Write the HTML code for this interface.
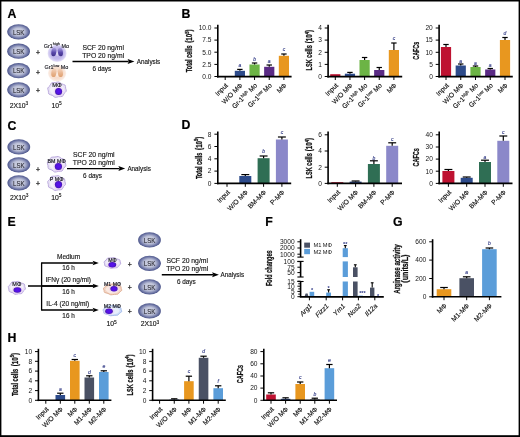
<!DOCTYPE html>
<html><head><meta charset="utf-8"><title>Figure</title>
<style>
html,body{margin:0;padding:0;background:#fff;}
body{width:520px;height:437px;overflow:hidden;font-family:"Liberation Sans",sans-serif;}
svg{display:block;font-family:"Liberation Sans",sans-serif;will-change:transform;}
</style></head><body>
<svg width="520" height="437" viewBox="0 0 520 437" font-family="Liberation Sans, sans-serif">
<rect x="0" y="0" width="520" height="437" fill="#fff"/>
<text x="7.40" y="17.80" font-size="12.3" text-anchor="start" font-weight="bold" font-style="normal" fill="#000" stroke="#000" stroke-width="0.2">A</text>
<text x="181.50" y="17.80" font-size="12.3" text-anchor="start" font-weight="bold" font-style="normal" fill="#000" stroke="#000" stroke-width="0.2">B</text>
<text x="7.40" y="129.50" font-size="12.3" text-anchor="start" font-weight="bold" font-style="normal" fill="#000" stroke="#000" stroke-width="0.2">C</text>
<text x="181.50" y="129.20" font-size="12.3" text-anchor="start" font-weight="bold" font-style="normal" fill="#000" stroke="#000" stroke-width="0.2">D</text>
<text x="7.40" y="226.10" font-size="12.3" text-anchor="start" font-weight="bold" font-style="normal" fill="#000" stroke="#000" stroke-width="0.2">E</text>
<text x="265.20" y="226.00" font-size="12.3" text-anchor="start" font-weight="bold" font-style="normal" fill="#000" stroke="#000" stroke-width="0.2">F</text>
<text x="393.00" y="226.10" font-size="12.3" text-anchor="start" font-weight="bold" font-style="normal" fill="#000" stroke="#000" stroke-width="0.2">G</text>
<text x="7.40" y="341.50" font-size="12.3" text-anchor="start" font-weight="bold" font-style="normal" fill="#000" stroke="#000" stroke-width="0.2">H</text>
<defs>
<radialGradient id="lsk" cx="50%" cy="50%" r="50%">
<stop offset="0" stop-color="#d0d3e3"/><stop offset="0.46" stop-color="#c0c4d9"/><stop offset="0.64" stop-color="#9ea4c5"/><stop offset="0.82" stop-color="#727aa8"/><stop offset="1" stop-color="#4c558a"/>
</radialGradient>
<radialGradient id="grhi" cx="50%" cy="50%" r="50%">
<stop offset="0" stop-color="#b6ace6"/><stop offset="0.68" stop-color="#c2b9ec"/><stop offset="0.9" stop-color="#d9d3f4"/><stop offset="1" stop-color="#efecfa"/>
</radialGradient>
<radialGradient id="grlo" cx="50%" cy="50%" r="50%">
<stop offset="0" stop-color="#f5d6c2"/><stop offset="0.68" stop-color="#f7dfd0"/><stop offset="0.9" stop-color="#faeae0"/><stop offset="1" stop-color="#fdf6f2"/>
</radialGradient>
<radialGradient id="nuc" cx="50%" cy="50%" r="50%">
<stop offset="0" stop-color="#5a14ee"/><stop offset="0.75" stop-color="#5210dc"/><stop offset="1" stop-color="#3a1a9a"/>
</radialGradient>
<linearGradient id="lobehi" x1="0" y1="0" x2="0" y2="1">
<stop offset="0" stop-color="#7c6cc4" stop-opacity="0.35"/><stop offset="0.55" stop-color="#5a49ac"/><stop offset="1" stop-color="#3f3088"/>
</linearGradient>
<linearGradient id="lobelo" x1="0" y1="0" x2="0" y2="1">
<stop offset="0" stop-color="#efc4a4" stop-opacity="0.4"/><stop offset="0.55" stop-color="#e8b48e"/><stop offset="1" stop-color="#dfa070"/>
</linearGradient>
<radialGradient id="halo" cx="50%" cy="50%" r="50%">
<stop offset="0.55" stop-color="#e6c4f4" stop-opacity="0.9"/><stop offset="1" stop-color="#e6c4f4" stop-opacity="0"/>
</radialGradient>
<filter id="soft" x="-20%" y="-20%" width="140%" height="140%"><feGaussianBlur stdDeviation="0.4"/></filter>
</defs>
<ellipse cx="18.6" cy="31.8" rx="11.4" ry="7.65" fill="url(#lsk)"/>
<text x="18.60" y="34.50" font-size="7.4" text-anchor="middle" font-weight="normal" font-style="normal" fill="#33333e" textLength="11.4" lengthAdjust="spacingAndGlyphs" stroke="#33333e" stroke-width="0.15">LSK</text>
<ellipse cx="18.6" cy="51.2" rx="11.4" ry="7.65" fill="url(#lsk)"/>
<text x="18.60" y="53.90" font-size="7.4" text-anchor="middle" font-weight="normal" font-style="normal" fill="#33333e" textLength="11.4" lengthAdjust="spacingAndGlyphs" stroke="#33333e" stroke-width="0.15">LSK</text>
<ellipse cx="18.6" cy="70.7" rx="11.4" ry="7.65" fill="url(#lsk)"/>
<text x="18.60" y="73.40" font-size="7.4" text-anchor="middle" font-weight="normal" font-style="normal" fill="#33333e" textLength="11.4" lengthAdjust="spacingAndGlyphs" stroke="#33333e" stroke-width="0.15">LSK</text>
<ellipse cx="18.6" cy="89.8" rx="11.4" ry="7.65" fill="url(#lsk)"/>
<text x="18.60" y="92.50" font-size="7.4" text-anchor="middle" font-weight="normal" font-style="normal" fill="#33333e" textLength="11.4" lengthAdjust="spacingAndGlyphs" stroke="#33333e" stroke-width="0.15">LSK</text>
<text x="37.90" y="54.70" font-size="6.8" text-anchor="middle" font-weight="normal" font-style="normal" fill="#1c1c1c" stroke="#1c1c1c" stroke-width="0.25">+</text>
<text x="37.90" y="75.10" font-size="6.8" text-anchor="middle" font-weight="normal" font-style="normal" fill="#1c1c1c" stroke="#1c1c1c" stroke-width="0.25">+</text>
<text x="37.90" y="93.10" font-size="6.8" text-anchor="middle" font-weight="normal" font-style="normal" fill="#1c1c1c" stroke="#1c1c1c" stroke-width="0.25">+</text>
<ellipse cx="57.1" cy="53.2" rx="9.6" ry="8.8" fill="url(#grhi)"/>
<ellipse cx="57.1" cy="53.60" rx="0.9" ry="2.6" fill="#fff" opacity="0.55"/>
<ellipse cx="53.80" cy="52.00" rx="2.5" ry="4.3" transform="rotate(8 53.80 52.00)" fill="url(#lobehi)"/>
<ellipse cx="60.40" cy="52.00" rx="2.5" ry="4.3" transform="rotate(-8 60.40 52.00)" fill="url(#lobehi)"/>
<text x="56.40" y="47.50" font-size="5.45" text-anchor="middle" font-weight="normal" font-style="normal" fill="#1e1e26" stroke="#1e1e26" stroke-width="0.15">Gr1<tspan font-size="3.8" dy="-2.1">high</tspan><tspan dy="2.1"> Mo</tspan></text>
<ellipse cx="57.1" cy="73.2" rx="9.2" ry="8.4" fill="url(#grlo)"/>
<ellipse cx="57.1" cy="74.40" rx="0.9" ry="2.6" fill="#fff" opacity="0.55"/>
<ellipse cx="53.80" cy="72.80" rx="2.5" ry="4.3" transform="rotate(8 53.80 72.80)" fill="url(#lobelo)"/>
<ellipse cx="60.40" cy="72.80" rx="2.5" ry="4.3" transform="rotate(-8 60.40 72.80)" fill="url(#lobelo)"/>
<text x="56.40" y="68.80" font-size="5.45" text-anchor="middle" font-weight="normal" font-style="normal" fill="#1e1e26" stroke="#1e1e26" stroke-width="0.15">Gr1<tspan font-size="3.8" dy="-2.1">low</tspan><tspan dy="2.1"> Mo</tspan></text>
<path d="M66.12,89.74 Q66.80,91.25 65.30,92.33 Q63.80,93.40 63.30,95.13 Q62.80,96.86 60.71,96.65 Q58.61,96.44 56.79,97.17 Q54.97,97.90 53.75,96.50 Q52.53,95.11 50.43,94.74 Q48.33,94.37 48.45,92.67 Q48.56,90.97 47.88,89.46 Q47.20,87.95 48.70,86.87 Q50.20,85.80 50.70,84.07 Q51.20,82.34 53.29,82.55 Q55.39,82.76 57.19,82.11 Q58.99,81.47 60.23,82.78 Q61.47,84.09 63.57,84.46 Q65.67,84.83 65.55,86.53 Q65.44,88.23 66.12,89.74 Z" fill="#e7e1f5" stroke="#bbaadd" stroke-width="1.0" filter="url(#soft)"/>
<ellipse cx="57" cy="89.6" rx="7.00" ry="5.81" fill="#fff" opacity="0.5"/>
<ellipse cx="58.6" cy="91.4" rx="5.60" ry="5.60" fill="url(#halo)"/>
<ellipse cx="58.6" cy="91.4" rx="3.5" ry="3.5" fill="url(#nuc)"/>
<text x="57.00" y="86.80" font-size="5.9" text-anchor="middle" font-weight="normal" font-style="normal" fill="#24242e" stroke="#24242e" stroke-width="0.2">M&#934;</text>
<text x="19.00" y="107.50" font-size="6.8" text-anchor="middle" font-weight="normal" font-style="normal" fill="#151515" stroke="#151515" stroke-width="0.14">2X10<tspan font-size="4.8" dy="-2.8">3</tspan></text>
<text x="56.60" y="107.50" font-size="6.8" text-anchor="middle" font-weight="normal" font-style="normal" fill="#151515" stroke="#151515" stroke-width="0.14">10<tspan font-size="4.8" dy="-2.8">5</tspan></text>
<text x="103.20" y="49.60" font-size="6.8" text-anchor="middle" font-weight="normal" font-style="normal" fill="#151515" stroke="#151515" stroke-width="0.14">SCF 20 ng/ml</text>
<text x="103.20" y="57.80" font-size="6.8" text-anchor="middle" font-weight="normal" font-style="normal" fill="#151515" stroke="#151515" stroke-width="0.14">TPO 20 ng/ml</text>
<text x="101.80" y="70.90" font-size="6.4" text-anchor="middle" font-weight="normal" font-style="normal" fill="#151515" stroke="#151515" stroke-width="0.14">6 days</text>
<line x1="72.50" y1="61.40" x2="128.60" y2="61.40" stroke="#000" stroke-width="1.45" stroke-linecap="butt"/>
<path d="M134.40,61.40 L127.60,58.90 L128.80,61.40 L127.60,63.90 Z" fill="#000"/>
<text x="136.80" y="63.70" font-size="6.3" text-anchor="start" font-weight="normal" font-style="normal" fill="#151515" stroke="#151515" stroke-width="0.14">Analysis</text>
<ellipse cx="18.8" cy="146.9" rx="11.4" ry="7.65" fill="url(#lsk)"/>
<text x="18.80" y="149.60" font-size="7.4" text-anchor="middle" font-weight="normal" font-style="normal" fill="#33333e" textLength="11.4" lengthAdjust="spacingAndGlyphs" stroke="#33333e" stroke-width="0.15">LSK</text>
<ellipse cx="18.8" cy="164.8" rx="11.4" ry="7.65" fill="url(#lsk)"/>
<text x="18.80" y="167.50" font-size="7.4" text-anchor="middle" font-weight="normal" font-style="normal" fill="#33333e" textLength="11.4" lengthAdjust="spacingAndGlyphs" stroke="#33333e" stroke-width="0.15">LSK</text>
<ellipse cx="18.8" cy="182.8" rx="11.4" ry="7.65" fill="url(#lsk)"/>
<text x="18.80" y="185.50" font-size="7.4" text-anchor="middle" font-weight="normal" font-style="normal" fill="#33333e" textLength="11.4" lengthAdjust="spacingAndGlyphs" stroke="#33333e" stroke-width="0.15">LSK</text>
<text x="37.90" y="172.10" font-size="6.8" text-anchor="middle" font-weight="normal" font-style="normal" fill="#1c1c1c" stroke="#1c1c1c" stroke-width="0.25">+</text>
<text x="37.90" y="186.40" font-size="6.8" text-anchor="middle" font-weight="normal" font-style="normal" fill="#1c1c1c" stroke="#1c1c1c" stroke-width="0.25">+</text>
<path d="M65.72,164.34 Q66.40,165.87 64.90,166.96 Q63.40,168.05 62.90,169.80 Q62.40,171.55 60.31,171.34 Q58.21,171.13 56.39,171.86 Q54.57,172.60 53.35,171.19 Q52.13,169.77 50.03,169.40 Q47.93,169.03 48.05,167.31 Q48.16,165.58 47.48,164.06 Q46.80,162.53 48.30,161.44 Q49.80,160.35 50.30,158.60 Q50.80,156.85 52.89,157.06 Q54.99,157.27 56.79,156.62 Q58.59,155.97 59.83,157.30 Q61.07,158.63 63.17,159.00 Q65.27,159.37 65.15,161.09 Q65.04,162.82 65.72,164.34 Z" fill="#e7e1f5" stroke="#bbaadd" stroke-width="1.0" filter="url(#soft)"/>
<ellipse cx="56.6" cy="164.2" rx="7.00" ry="5.88" fill="#fff" opacity="0.5"/>
<ellipse cx="58.4" cy="166.5" rx="5.76" ry="5.76" fill="url(#halo)"/>
<ellipse cx="58.4" cy="166.5" rx="3.6" ry="3.6" fill="url(#nuc)"/>
<text x="56.60" y="162.60" font-size="5.3" text-anchor="middle" font-weight="normal" font-style="normal" fill="#24242e" stroke="#24242e" stroke-width="0.2">BM M&#934;</text>
<path d="M65.36,183.14 Q66.01,184.59 64.57,185.63 Q63.13,186.66 62.65,188.33 Q62.17,190.00 60.16,189.80 Q58.14,189.60 56.40,190.30 Q54.65,191.00 53.48,189.65 Q52.31,188.31 50.29,187.95 Q48.28,187.60 48.39,185.96 Q48.50,184.32 47.84,182.86 Q47.19,181.41 48.63,180.37 Q50.07,179.34 50.55,177.67 Q51.03,176.00 53.04,176.20 Q55.06,176.40 56.78,175.78 Q58.51,175.16 59.70,176.43 Q60.89,177.69 62.91,178.05 Q64.92,178.40 64.81,180.04 Q64.70,181.68 65.36,183.14 Z" fill="#e7e1f5" stroke="#bbaadd" stroke-width="1.0" filter="url(#soft)"/>
<ellipse cx="56.6" cy="183" rx="6.72" ry="5.60" fill="#fff" opacity="0.5"/>
<ellipse cx="58.5" cy="184.6" rx="5.76" ry="5.76" fill="url(#halo)"/>
<ellipse cx="58.5" cy="184.6" rx="3.6" ry="3.6" fill="url(#nuc)"/>
<text x="56.60" y="181.20" font-size="5.3" text-anchor="middle" font-weight="normal" font-style="normal" fill="#24242e" stroke="#24242e" stroke-width="0.2">P M&#934;</text>
<text x="19.20" y="199.80" font-size="6.8" text-anchor="middle" font-weight="normal" font-style="normal" fill="#151515" stroke="#151515" stroke-width="0.14">2X10<tspan font-size="4.8" dy="-2.8">3</tspan></text>
<text x="56.40" y="199.80" font-size="6.8" text-anchor="middle" font-weight="normal" font-style="normal" fill="#151515" stroke="#151515" stroke-width="0.14">10<tspan font-size="4.8" dy="-2.8">5</tspan></text>
<text x="93.80" y="157.00" font-size="6.8" text-anchor="middle" font-weight="normal" font-style="normal" fill="#151515" stroke="#151515" stroke-width="0.14">SCF 20 ng/ml</text>
<text x="93.80" y="164.80" font-size="6.8" text-anchor="middle" font-weight="normal" font-style="normal" fill="#151515" stroke="#151515" stroke-width="0.14">TPO 20 ng/ml</text>
<text x="92.50" y="178.20" font-size="6.4" text-anchor="middle" font-weight="normal" font-style="normal" fill="#151515" stroke="#151515" stroke-width="0.14">6 days</text>
<line x1="67.00" y1="168.60" x2="119.40" y2="168.60" stroke="#000" stroke-width="1.45" stroke-linecap="butt"/>
<path d="M125.20,168.60 L118.40,166.10 L119.60,168.60 L118.40,171.10 Z" fill="#000"/>
<text x="127.40" y="170.90" font-size="6.3" text-anchor="start" font-weight="normal" font-style="normal" fill="#151515" stroke="#151515" stroke-width="0.14">Analysis</text>
<path d="M25.19,287.92 Q25.82,289.19 24.44,290.10 Q23.06,291.01 22.60,292.47 Q22.14,293.93 20.21,293.75 Q18.28,293.57 16.61,294.18 Q14.94,294.80 13.81,293.62 Q12.69,292.44 10.76,292.13 Q8.83,291.82 8.93,290.39 Q9.03,288.95 8.41,287.68 Q7.78,286.41 9.16,285.50 Q10.54,284.59 11.00,283.13 Q11.46,281.67 13.39,281.85 Q15.32,282.03 16.97,281.48 Q18.63,280.94 19.77,282.05 Q20.91,283.16 22.84,283.47 Q24.77,283.78 24.67,285.21 Q24.57,286.65 25.19,287.92 Z" fill="#e7e1f5" stroke="#bbaadd" stroke-width="1.0" filter="url(#soft)"/>
<ellipse cx="16.8" cy="287.8" rx="6.44" ry="4.90" fill="#fff" opacity="0.5"/>
<ellipse cx="17.4" cy="290" rx="6.24" ry="4.48" fill="url(#halo)"/>
<ellipse cx="17.4" cy="290" rx="3.9" ry="2.8" fill="url(#nuc)"/>
<text x="16.80" y="286.20" font-size="5.5" text-anchor="middle" font-weight="normal" font-style="normal" fill="#24242e" stroke="#24242e" stroke-width="0.2">M&#934;</text>
<line x1="28.00" y1="286.00" x2="94.00" y2="286.00" stroke="#000" stroke-width="1.3" stroke-linecap="butt"/>
<line x1="41.60" y1="262.40" x2="41.60" y2="310.60" stroke="#000" stroke-width="1.3" stroke-linecap="butt"/>
<line x1="41.60" y1="263.00" x2="93.60" y2="263.00" stroke="#000" stroke-width="1.3" stroke-linecap="butt"/>
<path d="M98.80,263.00 L92.60,260.70 L93.80,263.00 L92.60,265.30 Z" fill="#000"/>
<line x1="41.60" y1="286.00" x2="93.60" y2="286.00" stroke="#000" stroke-width="1.3" stroke-linecap="butt"/>
<path d="M98.80,286.00 L92.60,283.70 L93.80,286.00 L92.60,288.30 Z" fill="#000"/>
<line x1="41.60" y1="310.00" x2="93.60" y2="310.00" stroke="#000" stroke-width="1.3" stroke-linecap="butt"/>
<path d="M98.80,310.00 L92.60,307.70 L93.80,310.00 L92.60,312.30 Z" fill="#000"/>
<text x="68.60" y="259.00" font-size="6.5" text-anchor="middle" font-weight="normal" font-style="normal" fill="#151515" stroke="#151515" stroke-width="0.14">Medium</text>
<text x="68.60" y="269.50" font-size="6.4" text-anchor="middle" font-weight="normal" font-style="normal" fill="#151515" stroke="#151515" stroke-width="0.14">16 h</text>
<text x="68.20" y="282.40" font-size="6.6" text-anchor="middle" font-weight="normal" font-style="normal" fill="#151515" stroke="#151515" stroke-width="0.14">IFN&#947; (20 ng/ml)</text>
<text x="68.60" y="293.60" font-size="6.4" text-anchor="middle" font-weight="normal" font-style="normal" fill="#151515" stroke="#151515" stroke-width="0.14">16 h</text>
<text x="67.80" y="306.30" font-size="6.6" text-anchor="middle" font-weight="normal" font-style="normal" fill="#151515" stroke="#151515" stroke-width="0.14">IL-4 (20 ng/ml)</text>
<text x="68.60" y="318.40" font-size="6.4" text-anchor="middle" font-weight="normal" font-style="normal" fill="#151515" stroke="#151515" stroke-width="0.14">16 h</text>
<path d="M120.61,263.00 Q121.22,264.05 119.87,264.80 Q118.52,265.56 118.07,266.77 Q117.62,267.98 115.73,267.83 Q113.85,267.68 112.21,268.19 Q110.58,268.70 109.48,267.72 Q108.38,266.75 106.49,266.49 Q104.60,266.23 104.70,265.04 Q104.80,263.86 104.19,262.80 Q103.58,261.75 104.93,261.00 Q106.28,260.24 106.73,259.03 Q107.18,257.82 109.07,257.97 Q110.95,258.12 112.57,257.67 Q114.19,257.22 115.30,258.13 Q116.42,259.05 118.31,259.31 Q120.20,259.57 120.10,260.76 Q120.00,261.94 120.61,263.00 Z" fill="#e7e1f5" stroke="#bbaadd" stroke-width="1.0" filter="url(#soft)"/>
<ellipse cx="112.4" cy="262.9" rx="6.30" ry="4.06" fill="#fff" opacity="0.5"/>
<ellipse cx="112.3" cy="264.8" rx="6.24" ry="4.32" fill="url(#halo)"/>
<ellipse cx="112.3" cy="264.8" rx="3.9" ry="2.7" fill="url(#nuc)"/>
<text x="112.40" y="261.60" font-size="5.2" text-anchor="middle" font-weight="normal" font-style="normal" fill="#24242e" stroke="#24242e" stroke-width="0.2">M&#934;</text>
<path d="M121.63,289.40 Q122.30,290.47 120.82,291.24 Q119.33,292.00 118.84,293.23 Q118.34,294.46 116.27,294.31 Q114.19,294.16 112.39,294.68 Q110.59,295.20 109.38,294.21 Q108.18,293.21 106.10,292.95 Q104.02,292.69 104.13,291.48 Q104.24,290.27 103.57,289.20 Q102.90,288.13 104.38,287.36 Q105.87,286.60 106.36,285.37 Q106.86,284.14 108.93,284.29 Q111.01,284.44 112.79,283.98 Q114.57,283.52 115.80,284.45 Q117.02,285.39 119.10,285.65 Q121.18,285.91 121.07,287.12 Q120.96,288.33 121.63,289.40 Z" fill="#f4d4c4" stroke="#dfb096" stroke-width="1.0" filter="url(#soft)"/>
<ellipse cx="112.6" cy="289.3" rx="6.93" ry="4.13" fill="#fff" opacity="0.5"/>
<ellipse cx="114" cy="288.8" rx="5.76" ry="4.32" fill="url(#halo)"/>
<ellipse cx="114" cy="288.8" rx="3.6" ry="2.7" fill="url(#nuc)"/>
<text x="112.60" y="286.00" font-size="5.2" text-anchor="middle" font-weight="normal" font-style="normal" fill="#24242e" stroke="#24242e" stroke-width="0.2">M1 M&#934;</text>
<path d="M121.61,310.69 Q122.30,311.69 120.78,312.41 Q119.27,313.12 118.76,314.27 Q118.26,315.41 116.14,315.27 Q114.02,315.13 112.19,315.62 Q110.35,316.10 109.12,315.17 Q107.89,314.25 105.77,314.00 Q103.64,313.76 103.76,312.63 Q103.87,311.51 103.19,310.51 Q102.50,309.51 104.02,308.79 Q105.53,308.08 106.04,306.93 Q106.54,305.79 108.66,305.93 Q110.78,306.07 112.59,305.64 Q114.41,305.21 115.66,306.08 Q116.91,306.95 119.03,307.20 Q121.16,307.44 121.04,308.57 Q120.93,309.69 121.61,310.69 Z" fill="#cfdef9" stroke="#a2bae8" stroke-width="1.0" filter="url(#soft)"/>
<ellipse cx="112.4" cy="310.6" rx="7.07" ry="3.85" fill="#fff" opacity="0.5"/>
<ellipse cx="109" cy="311.3" rx="6.08" ry="4.32" fill="url(#halo)"/>
<ellipse cx="109" cy="311.3" rx="3.8" ry="2.7" fill="url(#nuc)"/>
<text x="112.40" y="307.80" font-size="5.2" text-anchor="middle" font-weight="normal" font-style="normal" fill="#24242e" stroke="#24242e" stroke-width="0.2">M2 M&#934;</text>
<text x="129.70" y="266.50" font-size="6.8" text-anchor="middle" font-weight="normal" font-style="normal" fill="#1c1c1c" stroke="#1c1c1c" stroke-width="0.25">+</text>
<text x="129.70" y="289.90" font-size="6.8" text-anchor="middle" font-weight="normal" font-style="normal" fill="#1c1c1c" stroke="#1c1c1c" stroke-width="0.25">+</text>
<text x="129.70" y="313.60" font-size="6.8" text-anchor="middle" font-weight="normal" font-style="normal" fill="#1c1c1c" stroke="#1c1c1c" stroke-width="0.25">+</text>
<ellipse cx="149.5" cy="239.9" rx="11.4" ry="7.65" fill="url(#lsk)"/>
<text x="149.50" y="242.60" font-size="7.4" text-anchor="middle" font-weight="normal" font-style="normal" fill="#33333e" textLength="11.4" lengthAdjust="spacingAndGlyphs" stroke="#33333e" stroke-width="0.15">LSK</text>
<ellipse cx="149.5" cy="263.3" rx="11.4" ry="7.65" fill="url(#lsk)"/>
<text x="149.50" y="266.00" font-size="7.4" text-anchor="middle" font-weight="normal" font-style="normal" fill="#33333e" textLength="11.4" lengthAdjust="spacingAndGlyphs" stroke="#33333e" stroke-width="0.15">LSK</text>
<ellipse cx="149.5" cy="286.8" rx="11.4" ry="7.65" fill="url(#lsk)"/>
<text x="149.50" y="289.50" font-size="7.4" text-anchor="middle" font-weight="normal" font-style="normal" fill="#33333e" textLength="11.4" lengthAdjust="spacingAndGlyphs" stroke="#33333e" stroke-width="0.15">LSK</text>
<ellipse cx="149.5" cy="310.9" rx="11.4" ry="7.65" fill="url(#lsk)"/>
<text x="149.50" y="313.60" font-size="7.4" text-anchor="middle" font-weight="normal" font-style="normal" fill="#33333e" textLength="11.4" lengthAdjust="spacingAndGlyphs" stroke="#33333e" stroke-width="0.15">LSK</text>
<text x="111.60" y="326.40" font-size="6.8" text-anchor="middle" font-weight="normal" font-style="normal" fill="#151515" stroke="#151515" stroke-width="0.14">10<tspan font-size="4.8" dy="-2.8">5</tspan></text>
<text x="150.00" y="326.40" font-size="6.8" text-anchor="middle" font-weight="normal" font-style="normal" fill="#151515" stroke="#151515" stroke-width="0.14">2X10<tspan font-size="4.8" dy="-2.8">3</tspan></text>
<text x="187.20" y="262.80" font-size="6.8" text-anchor="middle" font-weight="normal" font-style="normal" fill="#151515" stroke="#151515" stroke-width="0.14">SCF 20 ng/ml</text>
<text x="187.20" y="270.70" font-size="6.8" text-anchor="middle" font-weight="normal" font-style="normal" fill="#151515" stroke="#151515" stroke-width="0.14">TPO 20 ng/ml</text>
<text x="186.30" y="284.00" font-size="6.4" text-anchor="middle" font-weight="normal" font-style="normal" fill="#151515" stroke="#151515" stroke-width="0.14">6 days</text>
<line x1="161.80" y1="274.70" x2="213.10" y2="274.70" stroke="#000" stroke-width="1.45" stroke-linecap="butt"/>
<path d="M218.90,274.70 L212.10,272.20 L213.30,274.70 L212.10,277.20 Z" fill="#000"/>
<text x="220.60" y="277.00" font-size="6.3" text-anchor="start" font-weight="normal" font-style="normal" fill="#151515" stroke="#151515" stroke-width="0.14">Analysis</text>
<rect x="234.78" y="70.80" width="10.20" height="5.80" fill="#2d4b8b"/>
<line x1="239.88" y1="69.40" x2="239.88" y2="70.80" stroke="#000" stroke-width="1.2" stroke-linecap="butt"/>
<line x1="237.18" y1="69.40" x2="242.58" y2="69.40" stroke="#000" stroke-width="1.2" stroke-linecap="butt"/>
<rect x="249.46" y="64.50" width="10.20" height="12.10" fill="#6cb445"/>
<line x1="254.56" y1="63.00" x2="254.56" y2="64.50" stroke="#000" stroke-width="1.2" stroke-linecap="butt"/>
<line x1="251.86" y1="63.00" x2="257.26" y2="63.00" stroke="#000" stroke-width="1.2" stroke-linecap="butt"/>
<rect x="264.14" y="66.80" width="10.20" height="9.80" fill="#5a2a85"/>
<line x1="269.24" y1="65.00" x2="269.24" y2="66.80" stroke="#000" stroke-width="1.2" stroke-linecap="butt"/>
<line x1="266.54" y1="65.00" x2="271.94" y2="65.00" stroke="#000" stroke-width="1.2" stroke-linecap="butt"/>
<rect x="278.82" y="55.80" width="10.20" height="20.80" fill="#e8971f"/>
<line x1="283.92" y1="54.00" x2="283.92" y2="55.80" stroke="#000" stroke-width="1.2" stroke-linecap="butt"/>
<line x1="281.22" y1="54.00" x2="286.62" y2="54.00" stroke="#000" stroke-width="1.2" stroke-linecap="butt"/>
<line x1="217.80" y1="24.80" x2="217.80" y2="77.40" stroke="#000" stroke-width="1.6" stroke-linecap="butt"/>
<line x1="217.00" y1="76.60" x2="291.60" y2="76.60" stroke="#000" stroke-width="1.6" stroke-linecap="butt"/>
<line x1="214.40" y1="28.00" x2="217.80" y2="28.00" stroke="#000" stroke-width="1.0" stroke-linecap="butt"/>
<text x="211.50" y="30.30" font-size="6.6" text-anchor="end" font-weight="normal" font-style="normal" fill="#161616" >10.0</text>
<line x1="214.40" y1="40.10" x2="217.80" y2="40.10" stroke="#000" stroke-width="1.0" stroke-linecap="butt"/>
<text x="211.50" y="42.40" font-size="6.6" text-anchor="end" font-weight="normal" font-style="normal" fill="#161616" >7.5</text>
<line x1="214.40" y1="52.20" x2="217.80" y2="52.20" stroke="#000" stroke-width="1.0" stroke-linecap="butt"/>
<text x="211.50" y="54.50" font-size="6.6" text-anchor="end" font-weight="normal" font-style="normal" fill="#161616" >5.0</text>
<line x1="214.40" y1="64.40" x2="217.80" y2="64.40" stroke="#000" stroke-width="1.0" stroke-linecap="butt"/>
<text x="211.50" y="66.70" font-size="6.6" text-anchor="end" font-weight="normal" font-style="normal" fill="#161616" >2.5</text>
<line x1="214.40" y1="76.50" x2="217.80" y2="76.50" stroke="#000" stroke-width="1.0" stroke-linecap="butt"/>
<text x="211.50" y="78.80" font-size="6.6" text-anchor="end" font-weight="normal" font-style="normal" fill="#161616" >0.0</text>
<line x1="225.20" y1="76.60" x2="225.20" y2="80.00" stroke="#000" stroke-width="1.0" stroke-linecap="butt"/>
<text transform="translate(228.40,85.90) rotate(-45)" font-size="6.7" text-anchor="end" font-style="normal" fill="#111" stroke="#111" stroke-width="0.15">Input</text>
<line x1="239.88" y1="76.60" x2="239.88" y2="80.00" stroke="#000" stroke-width="1.0" stroke-linecap="butt"/>
<text transform="translate(243.08,85.90) rotate(-45)" font-size="6.7" text-anchor="end" font-style="normal" fill="#111" stroke="#111" stroke-width="0.15">W/O M&#934;</text>
<line x1="254.56" y1="76.60" x2="254.56" y2="80.00" stroke="#000" stroke-width="1.0" stroke-linecap="butt"/>
<text transform="translate(257.76,85.90) rotate(-45)" font-size="6.7" text-anchor="end" font-style="normal" fill="#111" stroke="#111" stroke-width="0.15">Gr-1<tspan font-size="4.3" dy="-2.4">high</tspan><tspan dy="2.4"> Mo</tspan></text>
<line x1="269.24" y1="76.60" x2="269.24" y2="80.00" stroke="#000" stroke-width="1.0" stroke-linecap="butt"/>
<text transform="translate(272.44,85.90) rotate(-45)" font-size="6.7" text-anchor="end" font-style="normal" fill="#111" stroke="#111" stroke-width="0.15">Gr-1<tspan font-size="4.3" dy="-2.4">low</tspan><tspan dy="2.4"> Mo</tspan></text>
<line x1="283.92" y1="76.60" x2="283.92" y2="80.00" stroke="#000" stroke-width="1.0" stroke-linecap="butt"/>
<text transform="translate(287.12,85.90) rotate(-45)" font-size="6.7" text-anchor="end" font-style="normal" fill="#111" stroke="#111" stroke-width="0.15">M&#934;</text>
<text x="239.88" y="67.20" font-size="5.0" text-anchor="middle" font-weight="normal" font-style="italic" fill="#39428a" stroke="#39428a" stroke-width="0.15">a</text>
<text x="254.56" y="60.60" font-size="5.0" text-anchor="middle" font-weight="normal" font-style="italic" fill="#39428a" stroke="#39428a" stroke-width="0.15">b</text>
<text x="269.24" y="62.60" font-size="5.0" text-anchor="middle" font-weight="normal" font-style="italic" fill="#39428a" stroke="#39428a" stroke-width="0.15">a</text>
<text x="283.92" y="51.00" font-size="5.0" text-anchor="middle" font-weight="normal" font-style="italic" fill="#39428a" stroke="#39428a" stroke-width="0.15">c</text>
<text transform="translate(192.10,72.20) rotate(-90)" font-size="8.6" font-weight="bold" fill="#111" stroke="#111" stroke-width="0.28" textLength="26.7" lengthAdjust="spacingAndGlyphs">Total cells</text>
<text transform="translate(192.10,42.70) rotate(-90)" font-size="8.6" font-weight="bold" fill="#111" stroke="#111" stroke-width="0.28" textLength="13.3" lengthAdjust="spacingAndGlyphs">(10<tspan font-size="5.6" dy="-3.5">5</tspan><tspan dy="3.5">)</tspan></text>
<rect x="330.20" y="74.20" width="10.20" height="2.40" fill="#be1231"/>
<rect x="344.85" y="73.70" width="10.20" height="2.90" fill="#2d4b8b"/>
<line x1="349.95" y1="72.40" x2="349.95" y2="73.70" stroke="#000" stroke-width="1.2" stroke-linecap="butt"/>
<line x1="347.25" y1="72.40" x2="352.65" y2="72.40" stroke="#000" stroke-width="1.2" stroke-linecap="butt"/>
<rect x="359.50" y="60.00" width="10.20" height="16.60" fill="#6cb445"/>
<line x1="364.60" y1="57.50" x2="364.60" y2="60.00" stroke="#000" stroke-width="1.2" stroke-linecap="butt"/>
<line x1="361.90" y1="57.50" x2="367.30" y2="57.50" stroke="#000" stroke-width="1.2" stroke-linecap="butt"/>
<rect x="374.15" y="70.00" width="10.20" height="6.60" fill="#5a2a85"/>
<line x1="379.25" y1="67.50" x2="379.25" y2="70.00" stroke="#000" stroke-width="1.2" stroke-linecap="butt"/>
<line x1="376.55" y1="67.50" x2="381.95" y2="67.50" stroke="#000" stroke-width="1.2" stroke-linecap="butt"/>
<rect x="388.80" y="50.00" width="10.20" height="26.60" fill="#e8971f"/>
<line x1="393.90" y1="43.00" x2="393.90" y2="50.00" stroke="#000" stroke-width="1.2" stroke-linecap="butt"/>
<line x1="391.20" y1="43.00" x2="396.60" y2="43.00" stroke="#000" stroke-width="1.2" stroke-linecap="butt"/>
<line x1="328.10" y1="24.80" x2="328.10" y2="77.40" stroke="#000" stroke-width="1.6" stroke-linecap="butt"/>
<line x1="327.30" y1="76.60" x2="402.20" y2="76.60" stroke="#000" stroke-width="1.6" stroke-linecap="butt"/>
<line x1="324.70" y1="28.00" x2="328.10" y2="28.00" stroke="#000" stroke-width="1.0" stroke-linecap="butt"/>
<text x="321.80" y="30.30" font-size="6.6" text-anchor="end" font-weight="normal" font-style="normal" fill="#161616" >4</text>
<line x1="324.70" y1="40.10" x2="328.10" y2="40.10" stroke="#000" stroke-width="1.0" stroke-linecap="butt"/>
<text x="321.80" y="42.40" font-size="6.6" text-anchor="end" font-weight="normal" font-style="normal" fill="#161616" >3</text>
<line x1="324.70" y1="52.30" x2="328.10" y2="52.30" stroke="#000" stroke-width="1.0" stroke-linecap="butt"/>
<text x="321.80" y="54.60" font-size="6.6" text-anchor="end" font-weight="normal" font-style="normal" fill="#161616" >2</text>
<line x1="324.70" y1="64.40" x2="328.10" y2="64.40" stroke="#000" stroke-width="1.0" stroke-linecap="butt"/>
<text x="321.80" y="66.70" font-size="6.6" text-anchor="end" font-weight="normal" font-style="normal" fill="#161616" >1</text>
<line x1="324.70" y1="76.50" x2="328.10" y2="76.50" stroke="#000" stroke-width="1.0" stroke-linecap="butt"/>
<text x="321.80" y="78.80" font-size="6.6" text-anchor="end" font-weight="normal" font-style="normal" fill="#161616" >0</text>
<line x1="335.30" y1="76.60" x2="335.30" y2="80.00" stroke="#000" stroke-width="1.0" stroke-linecap="butt"/>
<text transform="translate(338.50,85.90) rotate(-45)" font-size="6.7" text-anchor="end" font-style="normal" fill="#111" stroke="#111" stroke-width="0.15">Input</text>
<line x1="349.95" y1="76.60" x2="349.95" y2="80.00" stroke="#000" stroke-width="1.0" stroke-linecap="butt"/>
<text transform="translate(353.15,85.90) rotate(-45)" font-size="6.7" text-anchor="end" font-style="normal" fill="#111" stroke="#111" stroke-width="0.15">W/O M&#934;</text>
<line x1="364.60" y1="76.60" x2="364.60" y2="80.00" stroke="#000" stroke-width="1.0" stroke-linecap="butt"/>
<text transform="translate(367.80,85.90) rotate(-45)" font-size="6.7" text-anchor="end" font-style="normal" fill="#111" stroke="#111" stroke-width="0.15">Gr-1<tspan font-size="4.3" dy="-2.4">high</tspan><tspan dy="2.4"> Mo</tspan></text>
<line x1="379.25" y1="76.60" x2="379.25" y2="80.00" stroke="#000" stroke-width="1.0" stroke-linecap="butt"/>
<text transform="translate(382.45,85.90) rotate(-45)" font-size="6.7" text-anchor="end" font-style="normal" fill="#111" stroke="#111" stroke-width="0.15">Gr-1<tspan font-size="4.3" dy="-2.4">low</tspan><tspan dy="2.4"> Mo</tspan></text>
<line x1="393.90" y1="76.60" x2="393.90" y2="80.00" stroke="#000" stroke-width="1.0" stroke-linecap="butt"/>
<text transform="translate(397.10,85.90) rotate(-45)" font-size="6.7" text-anchor="end" font-style="normal" fill="#111" stroke="#111" stroke-width="0.15">M&#934;</text>
<text x="393.90" y="40.20" font-size="5.0" text-anchor="middle" font-weight="normal" font-style="italic" fill="#39428a" stroke="#39428a" stroke-width="0.15">c</text>
<text transform="translate(312.00,70.50) rotate(-90)" font-size="8.6" font-weight="bold" fill="#111" stroke="#111" stroke-width="0.28" textLength="25.3" lengthAdjust="spacingAndGlyphs">LSK cells</text>
<text transform="translate(312.00,43.20) rotate(-90)" font-size="8.6" font-weight="bold" fill="#111" stroke="#111" stroke-width="0.28" textLength="13.2" lengthAdjust="spacingAndGlyphs">(10<tspan font-size="5.6" dy="-3.5">4</tspan><tspan dy="3.5">)</tspan></text>
<rect x="440.90" y="47.00" width="10.20" height="29.60" fill="#be1231"/>
<line x1="446.00" y1="44.50" x2="446.00" y2="47.00" stroke="#000" stroke-width="1.2" stroke-linecap="butt"/>
<line x1="443.30" y1="44.50" x2="448.70" y2="44.50" stroke="#000" stroke-width="1.2" stroke-linecap="butt"/>
<rect x="455.65" y="65.50" width="10.20" height="11.10" fill="#2d4b8b"/>
<line x1="460.75" y1="64.00" x2="460.75" y2="65.50" stroke="#000" stroke-width="1.2" stroke-linecap="butt"/>
<line x1="458.05" y1="64.00" x2="463.45" y2="64.00" stroke="#000" stroke-width="1.2" stroke-linecap="butt"/>
<rect x="470.40" y="67.00" width="10.20" height="9.60" fill="#6cb445"/>
<line x1="475.50" y1="66.00" x2="475.50" y2="67.00" stroke="#000" stroke-width="1.2" stroke-linecap="butt"/>
<line x1="472.80" y1="66.00" x2="478.20" y2="66.00" stroke="#000" stroke-width="1.2" stroke-linecap="butt"/>
<rect x="485.15" y="69.50" width="10.20" height="7.10" fill="#5a2a85"/>
<line x1="490.25" y1="68.50" x2="490.25" y2="69.50" stroke="#000" stroke-width="1.2" stroke-linecap="butt"/>
<line x1="487.55" y1="68.50" x2="492.95" y2="68.50" stroke="#000" stroke-width="1.2" stroke-linecap="butt"/>
<rect x="499.90" y="40.00" width="10.20" height="36.60" fill="#e8971f"/>
<line x1="505.00" y1="37.50" x2="505.00" y2="40.00" stroke="#000" stroke-width="1.2" stroke-linecap="butt"/>
<line x1="502.30" y1="37.50" x2="507.70" y2="37.50" stroke="#000" stroke-width="1.2" stroke-linecap="butt"/>
<line x1="439.10" y1="24.80" x2="439.10" y2="77.40" stroke="#000" stroke-width="1.6" stroke-linecap="butt"/>
<line x1="438.30" y1="76.60" x2="512.80" y2="76.60" stroke="#000" stroke-width="1.6" stroke-linecap="butt"/>
<line x1="435.70" y1="28.00" x2="439.10" y2="28.00" stroke="#000" stroke-width="1.0" stroke-linecap="butt"/>
<text x="432.80" y="30.30" font-size="6.6" text-anchor="end" font-weight="normal" font-style="normal" fill="#161616" >20</text>
<line x1="435.70" y1="40.10" x2="439.10" y2="40.10" stroke="#000" stroke-width="1.0" stroke-linecap="butt"/>
<text x="432.80" y="42.40" font-size="6.6" text-anchor="end" font-weight="normal" font-style="normal" fill="#161616" >15</text>
<line x1="435.70" y1="52.30" x2="439.10" y2="52.30" stroke="#000" stroke-width="1.0" stroke-linecap="butt"/>
<text x="432.80" y="54.60" font-size="6.6" text-anchor="end" font-weight="normal" font-style="normal" fill="#161616" >10</text>
<line x1="435.70" y1="64.40" x2="439.10" y2="64.40" stroke="#000" stroke-width="1.0" stroke-linecap="butt"/>
<text x="432.80" y="66.70" font-size="6.6" text-anchor="end" font-weight="normal" font-style="normal" fill="#161616" >5</text>
<line x1="435.70" y1="76.50" x2="439.10" y2="76.50" stroke="#000" stroke-width="1.0" stroke-linecap="butt"/>
<text x="432.80" y="78.80" font-size="6.6" text-anchor="end" font-weight="normal" font-style="normal" fill="#161616" >0</text>
<line x1="446.00" y1="76.60" x2="446.00" y2="80.00" stroke="#000" stroke-width="1.0" stroke-linecap="butt"/>
<text transform="translate(449.20,85.90) rotate(-45)" font-size="6.7" text-anchor="end" font-style="normal" fill="#111" stroke="#111" stroke-width="0.15">Input</text>
<line x1="460.75" y1="76.60" x2="460.75" y2="80.00" stroke="#000" stroke-width="1.0" stroke-linecap="butt"/>
<text transform="translate(463.95,85.90) rotate(-45)" font-size="6.7" text-anchor="end" font-style="normal" fill="#111" stroke="#111" stroke-width="0.15">W/O M&#934;</text>
<line x1="475.50" y1="76.60" x2="475.50" y2="80.00" stroke="#000" stroke-width="1.0" stroke-linecap="butt"/>
<text transform="translate(478.70,85.90) rotate(-45)" font-size="6.7" text-anchor="end" font-style="normal" fill="#111" stroke="#111" stroke-width="0.15">Gr-1<tspan font-size="4.3" dy="-2.4">high</tspan><tspan dy="2.4"> Mo</tspan></text>
<line x1="490.25" y1="76.60" x2="490.25" y2="80.00" stroke="#000" stroke-width="1.0" stroke-linecap="butt"/>
<text transform="translate(493.45,85.90) rotate(-45)" font-size="6.7" text-anchor="end" font-style="normal" fill="#111" stroke="#111" stroke-width="0.15">Gr-1<tspan font-size="4.3" dy="-2.4">low</tspan><tspan dy="2.4"> Mo</tspan></text>
<line x1="505.00" y1="76.60" x2="505.00" y2="80.00" stroke="#000" stroke-width="1.0" stroke-linecap="butt"/>
<text transform="translate(508.20,85.90) rotate(-45)" font-size="6.7" text-anchor="end" font-style="normal" fill="#111" stroke="#111" stroke-width="0.15">M&#934;</text>
<text x="460.75" y="63.40" font-size="5.0" text-anchor="middle" font-weight="normal" font-style="italic" fill="#39428a" stroke="#39428a" stroke-width="0.15">a</text>
<text x="475.50" y="65.40" font-size="5.0" text-anchor="middle" font-weight="normal" font-style="italic" fill="#39428a" stroke="#39428a" stroke-width="0.15">a</text>
<text x="490.25" y="66.90" font-size="5.0" text-anchor="middle" font-weight="normal" font-style="italic" fill="#39428a" stroke="#39428a" stroke-width="0.15">a</text>
<text x="505.00" y="34.60" font-size="5.0" text-anchor="middle" font-weight="normal" font-style="italic" fill="#39428a" stroke="#39428a" stroke-width="0.15">d</text>
<text transform="translate(418.80,50.80) rotate(-90)" font-size="8.8" text-anchor="middle" font-weight="bold" fill="#111" stroke="#111" stroke-width="0.28" textLength="17.9" lengthAdjust="spacingAndGlyphs">CAFCs</text>
<rect x="239.30" y="176.00" width="12.00" height="7.40" fill="#2d4b8b"/>
<line x1="245.30" y1="174.60" x2="245.30" y2="176.00" stroke="#000" stroke-width="1.2" stroke-linecap="butt"/>
<line x1="241.34" y1="174.60" x2="249.26" y2="174.60" stroke="#000" stroke-width="1.2" stroke-linecap="butt"/>
<rect x="257.60" y="158.20" width="12.00" height="25.20" fill="#2f6e54"/>
<line x1="263.60" y1="156.00" x2="263.60" y2="158.20" stroke="#000" stroke-width="1.2" stroke-linecap="butt"/>
<line x1="259.64" y1="156.00" x2="267.56" y2="156.00" stroke="#000" stroke-width="1.2" stroke-linecap="butt"/>
<rect x="275.90" y="139.50" width="12.00" height="43.90" fill="#8b88c9"/>
<line x1="281.90" y1="137.00" x2="281.90" y2="139.50" stroke="#000" stroke-width="1.2" stroke-linecap="butt"/>
<line x1="277.94" y1="137.00" x2="285.86" y2="137.00" stroke="#000" stroke-width="1.2" stroke-linecap="butt"/>
<line x1="217.80" y1="131.40" x2="217.80" y2="184.20" stroke="#000" stroke-width="1.6" stroke-linecap="butt"/>
<line x1="217.00" y1="183.40" x2="291.20" y2="183.40" stroke="#000" stroke-width="1.6" stroke-linecap="butt"/>
<line x1="214.40" y1="134.20" x2="217.80" y2="134.20" stroke="#000" stroke-width="1.0" stroke-linecap="butt"/>
<text x="211.50" y="136.50" font-size="6.6" text-anchor="end" font-weight="normal" font-style="normal" fill="#161616" >8</text>
<line x1="214.40" y1="146.50" x2="217.80" y2="146.50" stroke="#000" stroke-width="1.0" stroke-linecap="butt"/>
<text x="211.50" y="148.80" font-size="6.6" text-anchor="end" font-weight="normal" font-style="normal" fill="#161616" >6</text>
<line x1="214.40" y1="158.80" x2="217.80" y2="158.80" stroke="#000" stroke-width="1.0" stroke-linecap="butt"/>
<text x="211.50" y="161.10" font-size="6.6" text-anchor="end" font-weight="normal" font-style="normal" fill="#161616" >4</text>
<line x1="214.40" y1="171.10" x2="217.80" y2="171.10" stroke="#000" stroke-width="1.0" stroke-linecap="butt"/>
<text x="211.50" y="173.40" font-size="6.6" text-anchor="end" font-weight="normal" font-style="normal" fill="#161616" >2</text>
<line x1="214.40" y1="183.40" x2="217.80" y2="183.40" stroke="#000" stroke-width="1.0" stroke-linecap="butt"/>
<text x="211.50" y="185.70" font-size="6.6" text-anchor="end" font-weight="normal" font-style="normal" fill="#161616" >0</text>
<line x1="227.00" y1="183.40" x2="227.00" y2="186.80" stroke="#000" stroke-width="1.0" stroke-linecap="butt"/>
<text transform="translate(230.20,192.70) rotate(-45)" font-size="6.7" text-anchor="end" font-style="normal" fill="#111" stroke="#111" stroke-width="0.15">Input</text>
<line x1="245.30" y1="183.40" x2="245.30" y2="186.80" stroke="#000" stroke-width="1.0" stroke-linecap="butt"/>
<text transform="translate(248.50,192.70) rotate(-45)" font-size="6.7" text-anchor="end" font-style="normal" fill="#111" stroke="#111" stroke-width="0.15">W/O M&#934;</text>
<line x1="263.60" y1="183.40" x2="263.60" y2="186.80" stroke="#000" stroke-width="1.0" stroke-linecap="butt"/>
<text transform="translate(266.80,192.70) rotate(-45)" font-size="6.7" text-anchor="end" font-style="normal" fill="#111" stroke="#111" stroke-width="0.15">BM-M&#934;</text>
<line x1="281.90" y1="183.40" x2="281.90" y2="186.80" stroke="#000" stroke-width="1.0" stroke-linecap="butt"/>
<text transform="translate(285.10,192.70) rotate(-45)" font-size="6.7" text-anchor="end" font-style="normal" fill="#111" stroke="#111" stroke-width="0.15">P-M&#934;</text>
<text x="263.60" y="153.20" font-size="5.0" text-anchor="middle" font-weight="normal" font-style="italic" fill="#39428a" stroke="#39428a" stroke-width="0.15">b</text>
<text x="281.90" y="134.20" font-size="5.0" text-anchor="middle" font-weight="normal" font-style="italic" fill="#39428a" stroke="#39428a" stroke-width="0.15">c</text>
<text transform="translate(201.90,179.10) rotate(-90)" font-size="8.6" font-weight="bold" fill="#111" stroke="#111" stroke-width="0.28" textLength="26.5" lengthAdjust="spacingAndGlyphs">Total cells</text>
<text transform="translate(201.90,149.90) rotate(-90)" font-size="8.6" font-weight="bold" fill="#111" stroke="#111" stroke-width="0.28" textLength="13.3" lengthAdjust="spacingAndGlyphs">(10<tspan font-size="5.6" dy="-3.5">5</tspan><tspan dy="3.5">)</tspan></text>
<rect x="331.30" y="182.20" width="12.00" height="1.20" fill="#be1231"/>
<rect x="349.60" y="181.60" width="12.00" height="1.80" fill="#2d4b8b"/>
<line x1="355.60" y1="181.00" x2="355.60" y2="181.60" stroke="#000" stroke-width="1.2" stroke-linecap="butt"/>
<line x1="351.64" y1="181.00" x2="359.56" y2="181.00" stroke="#000" stroke-width="1.2" stroke-linecap="butt"/>
<rect x="367.90" y="164.00" width="12.00" height="19.40" fill="#2f6e54"/>
<line x1="373.90" y1="160.80" x2="373.90" y2="164.00" stroke="#000" stroke-width="1.2" stroke-linecap="butt"/>
<line x1="369.94" y1="160.80" x2="377.86" y2="160.80" stroke="#000" stroke-width="1.2" stroke-linecap="butt"/>
<rect x="386.20" y="145.80" width="12.00" height="37.60" fill="#8b88c9"/>
<line x1="392.20" y1="142.80" x2="392.20" y2="145.80" stroke="#000" stroke-width="1.2" stroke-linecap="butt"/>
<line x1="388.24" y1="142.80" x2="396.16" y2="142.80" stroke="#000" stroke-width="1.2" stroke-linecap="butt"/>
<line x1="328.10" y1="131.40" x2="328.10" y2="184.20" stroke="#000" stroke-width="1.6" stroke-linecap="butt"/>
<line x1="327.30" y1="183.40" x2="402.00" y2="183.40" stroke="#000" stroke-width="1.6" stroke-linecap="butt"/>
<line x1="324.70" y1="134.80" x2="328.10" y2="134.80" stroke="#000" stroke-width="1.0" stroke-linecap="butt"/>
<text x="321.80" y="137.10" font-size="6.6" text-anchor="end" font-weight="normal" font-style="normal" fill="#161616" >6</text>
<line x1="324.70" y1="151.00" x2="328.10" y2="151.00" stroke="#000" stroke-width="1.0" stroke-linecap="butt"/>
<text x="321.80" y="153.30" font-size="6.6" text-anchor="end" font-weight="normal" font-style="normal" fill="#161616" >4</text>
<line x1="324.70" y1="167.20" x2="328.10" y2="167.20" stroke="#000" stroke-width="1.0" stroke-linecap="butt"/>
<text x="321.80" y="169.50" font-size="6.6" text-anchor="end" font-weight="normal" font-style="normal" fill="#161616" >2</text>
<line x1="324.70" y1="183.40" x2="328.10" y2="183.40" stroke="#000" stroke-width="1.0" stroke-linecap="butt"/>
<text x="321.80" y="185.70" font-size="6.6" text-anchor="end" font-weight="normal" font-style="normal" fill="#161616" >0</text>
<line x1="337.30" y1="183.40" x2="337.30" y2="186.80" stroke="#000" stroke-width="1.0" stroke-linecap="butt"/>
<text transform="translate(340.50,192.70) rotate(-45)" font-size="6.7" text-anchor="end" font-style="normal" fill="#111" stroke="#111" stroke-width="0.15">Input</text>
<line x1="355.60" y1="183.40" x2="355.60" y2="186.80" stroke="#000" stroke-width="1.0" stroke-linecap="butt"/>
<text transform="translate(358.80,192.70) rotate(-45)" font-size="6.7" text-anchor="end" font-style="normal" fill="#111" stroke="#111" stroke-width="0.15">W/O M&#934;</text>
<line x1="373.90" y1="183.40" x2="373.90" y2="186.80" stroke="#000" stroke-width="1.0" stroke-linecap="butt"/>
<text transform="translate(377.10,192.70) rotate(-45)" font-size="6.7" text-anchor="end" font-style="normal" fill="#111" stroke="#111" stroke-width="0.15">BM-M&#934;</text>
<line x1="392.20" y1="183.40" x2="392.20" y2="186.80" stroke="#000" stroke-width="1.0" stroke-linecap="butt"/>
<text transform="translate(395.40,192.70) rotate(-45)" font-size="6.7" text-anchor="end" font-style="normal" fill="#111" stroke="#111" stroke-width="0.15">P-M&#934;</text>
<text x="373.90" y="159.80" font-size="5.0" text-anchor="middle" font-weight="normal" font-style="italic" fill="#39428a" stroke="#39428a" stroke-width="0.15">b</text>
<text x="392.20" y="141.00" font-size="5.0" text-anchor="middle" font-weight="normal" font-style="italic" fill="#39428a" stroke="#39428a" stroke-width="0.15">c</text>
<text transform="translate(312.00,178.50) rotate(-90)" font-size="8.6" font-weight="bold" fill="#111" stroke="#111" stroke-width="0.28" textLength="25.3" lengthAdjust="spacingAndGlyphs">LSK cells</text>
<text transform="translate(312.00,151.20) rotate(-90)" font-size="8.6" font-weight="bold" fill="#111" stroke="#111" stroke-width="0.28" textLength="13.2" lengthAdjust="spacingAndGlyphs">(10<tspan font-size="5.6" dy="-3.5">4</tspan><tspan dy="3.5">)</tspan></text>
<rect x="442.40" y="171.00" width="12.00" height="12.40" fill="#be1231"/>
<line x1="448.40" y1="169.50" x2="448.40" y2="171.00" stroke="#000" stroke-width="1.2" stroke-linecap="butt"/>
<line x1="444.44" y1="169.50" x2="452.36" y2="169.50" stroke="#000" stroke-width="1.2" stroke-linecap="butt"/>
<rect x="460.70" y="177.80" width="12.00" height="5.60" fill="#2d4b8b"/>
<line x1="466.70" y1="177.00" x2="466.70" y2="177.80" stroke="#000" stroke-width="1.2" stroke-linecap="butt"/>
<line x1="462.74" y1="177.00" x2="470.66" y2="177.00" stroke="#000" stroke-width="1.2" stroke-linecap="butt"/>
<rect x="479.00" y="162.00" width="12.00" height="21.40" fill="#2f6e54"/>
<line x1="485.00" y1="160.20" x2="485.00" y2="162.00" stroke="#000" stroke-width="1.2" stroke-linecap="butt"/>
<line x1="481.04" y1="160.20" x2="488.96" y2="160.20" stroke="#000" stroke-width="1.2" stroke-linecap="butt"/>
<rect x="497.30" y="140.80" width="12.00" height="42.60" fill="#8b88c9"/>
<line x1="503.30" y1="136.00" x2="503.30" y2="140.80" stroke="#000" stroke-width="1.2" stroke-linecap="butt"/>
<line x1="499.34" y1="136.00" x2="507.26" y2="136.00" stroke="#000" stroke-width="1.2" stroke-linecap="butt"/>
<line x1="439.20" y1="131.40" x2="439.20" y2="184.20" stroke="#000" stroke-width="1.6" stroke-linecap="butt"/>
<line x1="438.40" y1="183.40" x2="512.50" y2="183.40" stroke="#000" stroke-width="1.6" stroke-linecap="butt"/>
<line x1="435.80" y1="134.80" x2="439.20" y2="134.80" stroke="#000" stroke-width="1.0" stroke-linecap="butt"/>
<text x="432.90" y="137.10" font-size="6.6" text-anchor="end" font-weight="normal" font-style="normal" fill="#161616" >40</text>
<line x1="435.80" y1="147.00" x2="439.20" y2="147.00" stroke="#000" stroke-width="1.0" stroke-linecap="butt"/>
<text x="432.90" y="149.30" font-size="6.6" text-anchor="end" font-weight="normal" font-style="normal" fill="#161616" >30</text>
<line x1="435.80" y1="159.10" x2="439.20" y2="159.10" stroke="#000" stroke-width="1.0" stroke-linecap="butt"/>
<text x="432.90" y="161.40" font-size="6.6" text-anchor="end" font-weight="normal" font-style="normal" fill="#161616" >20</text>
<line x1="435.80" y1="171.20" x2="439.20" y2="171.20" stroke="#000" stroke-width="1.0" stroke-linecap="butt"/>
<text x="432.90" y="173.50" font-size="6.6" text-anchor="end" font-weight="normal" font-style="normal" fill="#161616" >10</text>
<line x1="435.80" y1="183.40" x2="439.20" y2="183.40" stroke="#000" stroke-width="1.0" stroke-linecap="butt"/>
<text x="432.90" y="185.70" font-size="6.6" text-anchor="end" font-weight="normal" font-style="normal" fill="#161616" >0</text>
<line x1="448.40" y1="183.40" x2="448.40" y2="186.80" stroke="#000" stroke-width="1.0" stroke-linecap="butt"/>
<text transform="translate(451.60,192.70) rotate(-45)" font-size="6.7" text-anchor="end" font-style="normal" fill="#111" stroke="#111" stroke-width="0.15">Input</text>
<line x1="466.70" y1="183.40" x2="466.70" y2="186.80" stroke="#000" stroke-width="1.0" stroke-linecap="butt"/>
<text transform="translate(469.90,192.70) rotate(-45)" font-size="6.7" text-anchor="end" font-style="normal" fill="#111" stroke="#111" stroke-width="0.15">W/O M&#934;</text>
<line x1="485.00" y1="183.40" x2="485.00" y2="186.80" stroke="#000" stroke-width="1.0" stroke-linecap="butt"/>
<text transform="translate(488.20,192.70) rotate(-45)" font-size="6.7" text-anchor="end" font-style="normal" fill="#111" stroke="#111" stroke-width="0.15">BM-M&#934;</text>
<line x1="503.30" y1="183.40" x2="503.30" y2="186.80" stroke="#000" stroke-width="1.0" stroke-linecap="butt"/>
<text transform="translate(506.50,192.70) rotate(-45)" font-size="6.7" text-anchor="end" font-style="normal" fill="#111" stroke="#111" stroke-width="0.15">P-M&#934;</text>
<text x="485.00" y="158.70" font-size="5.0" text-anchor="middle" font-weight="normal" font-style="italic" fill="#39428a" stroke="#39428a" stroke-width="0.15">a</text>
<text x="503.30" y="134.20" font-size="5.0" text-anchor="middle" font-weight="normal" font-style="italic" fill="#39428a" stroke="#39428a" stroke-width="0.15">c</text>
<text transform="translate(418.90,157.30) rotate(-90)" font-size="8.8" text-anchor="middle" font-weight="bold" fill="#111" stroke="#111" stroke-width="0.28" textLength="18.4" lengthAdjust="spacingAndGlyphs">CAFCs</text>
<rect x="436.70" y="289.20" width="14.60" height="7.60" fill="#e8971f"/>
<line x1="444.00" y1="287.50" x2="444.00" y2="289.20" stroke="#000" stroke-width="1.2" stroke-linecap="butt"/>
<line x1="440.20" y1="287.50" x2="447.80" y2="287.50" stroke="#000" stroke-width="1.2" stroke-linecap="butt"/>
<rect x="459.40" y="278.20" width="14.60" height="18.60" fill="#4a5164"/>
<line x1="466.70" y1="276.80" x2="466.70" y2="278.20" stroke="#000" stroke-width="1.2" stroke-linecap="butt"/>
<line x1="462.90" y1="276.80" x2="470.50" y2="276.80" stroke="#000" stroke-width="1.2" stroke-linecap="butt"/>
<rect x="482.10" y="249.20" width="14.60" height="47.60" fill="#5b9dd9"/>
<line x1="489.40" y1="248.00" x2="489.40" y2="249.20" stroke="#000" stroke-width="1.2" stroke-linecap="butt"/>
<line x1="485.60" y1="248.00" x2="493.20" y2="248.00" stroke="#000" stroke-width="1.2" stroke-linecap="butt"/>
<line x1="432.60" y1="239.20" x2="432.60" y2="297.60" stroke="#000" stroke-width="1.6" stroke-linecap="butt"/>
<line x1="431.80" y1="296.80" x2="501.40" y2="296.80" stroke="#000" stroke-width="1.6" stroke-linecap="butt"/>
<line x1="429.20" y1="241.80" x2="432.60" y2="241.80" stroke="#000" stroke-width="1.0" stroke-linecap="butt"/>
<text x="426.30" y="244.10" font-size="6.6" text-anchor="end" font-weight="normal" font-style="normal" fill="#161616" >600</text>
<line x1="429.20" y1="260.10" x2="432.60" y2="260.10" stroke="#000" stroke-width="1.0" stroke-linecap="butt"/>
<text x="426.30" y="262.40" font-size="6.6" text-anchor="end" font-weight="normal" font-style="normal" fill="#161616" >400</text>
<line x1="429.20" y1="278.50" x2="432.60" y2="278.50" stroke="#000" stroke-width="1.0" stroke-linecap="butt"/>
<text x="426.30" y="280.80" font-size="6.6" text-anchor="end" font-weight="normal" font-style="normal" fill="#161616" >200</text>
<line x1="429.20" y1="296.80" x2="432.60" y2="296.80" stroke="#000" stroke-width="1.0" stroke-linecap="butt"/>
<text x="426.30" y="299.10" font-size="6.6" text-anchor="end" font-weight="normal" font-style="normal" fill="#161616" >0</text>
<line x1="444.00" y1="296.80" x2="444.00" y2="300.20" stroke="#000" stroke-width="1.0" stroke-linecap="butt"/>
<text transform="translate(447.20,306.10) rotate(-45)" font-size="6.7" text-anchor="end" font-style="normal" fill="#111" stroke="#111" stroke-width="0.15">M&#934;</text>
<line x1="466.70" y1="296.80" x2="466.70" y2="300.20" stroke="#000" stroke-width="1.0" stroke-linecap="butt"/>
<text transform="translate(469.90,306.10) rotate(-45)" font-size="6.7" text-anchor="end" font-style="normal" fill="#111" stroke="#111" stroke-width="0.15">M1-M&#934;</text>
<line x1="489.40" y1="296.80" x2="489.40" y2="300.20" stroke="#000" stroke-width="1.0" stroke-linecap="butt"/>
<text transform="translate(492.60,306.10) rotate(-45)" font-size="6.7" text-anchor="end" font-style="normal" fill="#111" stroke="#111" stroke-width="0.15">M2-M&#934;</text>
<text x="466.70" y="274.00" font-size="5.0" text-anchor="middle" font-weight="normal" font-style="italic" fill="#39428a" stroke="#39428a" stroke-width="0.15">a</text>
<text x="489.40" y="244.60" font-size="5.0" text-anchor="middle" font-weight="normal" font-style="italic" fill="#39428a" stroke="#39428a" stroke-width="0.15">b</text>
<text transform="translate(400.40,269.00) rotate(-90)" font-size="8.6" text-anchor="middle" font-weight="bold" fill="#111" stroke="#111" stroke-width="0.28" textLength="49.5" lengthAdjust="spacingAndGlyphs">Arginase activity</text>
<text transform="translate(407.60,268.60) rotate(-90)" font-size="8.6" text-anchor="middle" font-weight="bold" fill="#111" stroke="#111" stroke-width="0.28" textLength="28.2" lengthAdjust="spacingAndGlyphs">(units/L)</text>
<rect x="55.50" y="395.00" width="9.60" height="5.30" fill="#2d4b8b"/>
<line x1="60.30" y1="393.20" x2="60.30" y2="395.00" stroke="#000" stroke-width="1.2" stroke-linecap="butt"/>
<line x1="57.13" y1="393.20" x2="63.47" y2="393.20" stroke="#000" stroke-width="1.2" stroke-linecap="butt"/>
<rect x="70.00" y="360.80" width="9.60" height="39.50" fill="#e8971f"/>
<line x1="74.80" y1="359.50" x2="74.80" y2="360.80" stroke="#000" stroke-width="1.2" stroke-linecap="butt"/>
<line x1="71.63" y1="359.50" x2="77.97" y2="359.50" stroke="#000" stroke-width="1.2" stroke-linecap="butt"/>
<rect x="84.50" y="377.50" width="9.60" height="22.80" fill="#4a5164"/>
<line x1="89.30" y1="375.80" x2="89.30" y2="377.50" stroke="#000" stroke-width="1.2" stroke-linecap="butt"/>
<line x1="86.13" y1="375.80" x2="92.47" y2="375.80" stroke="#000" stroke-width="1.2" stroke-linecap="butt"/>
<rect x="99.00" y="372.00" width="9.60" height="28.30" fill="#5b9dd9"/>
<line x1="103.80" y1="370.80" x2="103.80" y2="372.00" stroke="#000" stroke-width="1.2" stroke-linecap="butt"/>
<line x1="100.63" y1="370.80" x2="106.97" y2="370.80" stroke="#000" stroke-width="1.2" stroke-linecap="butt"/>
<line x1="38.40" y1="348.80" x2="38.40" y2="401.10" stroke="#000" stroke-width="1.6" stroke-linecap="butt"/>
<line x1="37.60" y1="400.30" x2="111.40" y2="400.30" stroke="#000" stroke-width="1.6" stroke-linecap="butt"/>
<line x1="35.00" y1="351.60" x2="38.40" y2="351.60" stroke="#000" stroke-width="1.0" stroke-linecap="butt"/>
<text x="32.10" y="353.90" font-size="6.6" text-anchor="end" font-weight="normal" font-style="normal" fill="#161616" >10</text>
<line x1="35.00" y1="361.30" x2="38.40" y2="361.30" stroke="#000" stroke-width="1.0" stroke-linecap="butt"/>
<text x="32.10" y="363.60" font-size="6.6" text-anchor="end" font-weight="normal" font-style="normal" fill="#161616" >8</text>
<line x1="35.00" y1="371.10" x2="38.40" y2="371.10" stroke="#000" stroke-width="1.0" stroke-linecap="butt"/>
<text x="32.10" y="373.40" font-size="6.6" text-anchor="end" font-weight="normal" font-style="normal" fill="#161616" >6</text>
<line x1="35.00" y1="380.80" x2="38.40" y2="380.80" stroke="#000" stroke-width="1.0" stroke-linecap="butt"/>
<text x="32.10" y="383.10" font-size="6.6" text-anchor="end" font-weight="normal" font-style="normal" fill="#161616" >4</text>
<line x1="35.00" y1="390.60" x2="38.40" y2="390.60" stroke="#000" stroke-width="1.0" stroke-linecap="butt"/>
<text x="32.10" y="392.90" font-size="6.6" text-anchor="end" font-weight="normal" font-style="normal" fill="#161616" >2</text>
<line x1="35.00" y1="400.30" x2="38.40" y2="400.30" stroke="#000" stroke-width="1.0" stroke-linecap="butt"/>
<text x="32.10" y="402.60" font-size="6.6" text-anchor="end" font-weight="normal" font-style="normal" fill="#161616" >0</text>
<line x1="45.80" y1="400.30" x2="45.80" y2="403.70" stroke="#000" stroke-width="1.0" stroke-linecap="butt"/>
<text transform="translate(49.00,409.60) rotate(-45)" font-size="6.7" text-anchor="end" font-style="normal" fill="#111" stroke="#111" stroke-width="0.15">Input</text>
<line x1="60.30" y1="400.30" x2="60.30" y2="403.70" stroke="#000" stroke-width="1.0" stroke-linecap="butt"/>
<text transform="translate(63.50,409.60) rotate(-45)" font-size="6.7" text-anchor="end" font-style="normal" fill="#111" stroke="#111" stroke-width="0.15">W/O M&#934;</text>
<line x1="74.80" y1="400.30" x2="74.80" y2="403.70" stroke="#000" stroke-width="1.0" stroke-linecap="butt"/>
<text transform="translate(78.00,409.60) rotate(-45)" font-size="6.7" text-anchor="end" font-style="normal" fill="#111" stroke="#111" stroke-width="0.15">M&#934;</text>
<line x1="89.30" y1="400.30" x2="89.30" y2="403.70" stroke="#000" stroke-width="1.0" stroke-linecap="butt"/>
<text transform="translate(92.50,409.60) rotate(-45)" font-size="6.7" text-anchor="end" font-style="normal" fill="#111" stroke="#111" stroke-width="0.15">M1-M&#934;</text>
<line x1="103.80" y1="400.30" x2="103.80" y2="403.70" stroke="#000" stroke-width="1.0" stroke-linecap="butt"/>
<text transform="translate(107.00,409.60) rotate(-45)" font-size="6.7" text-anchor="end" font-style="normal" fill="#111" stroke="#111" stroke-width="0.15">M2-M&#934;</text>
<text x="60.30" y="391.00" font-size="5.0" text-anchor="middle" font-weight="normal" font-style="italic" fill="#39428a" stroke="#39428a" stroke-width="0.15">a</text>
<text x="74.80" y="357.20" font-size="5.0" text-anchor="middle" font-weight="normal" font-style="italic" fill="#39428a" stroke="#39428a" stroke-width="0.15">c</text>
<text x="89.30" y="374.20" font-size="5.0" text-anchor="middle" font-weight="normal" font-style="italic" fill="#39428a" stroke="#39428a" stroke-width="0.15">d</text>
<text x="103.80" y="367.80" font-size="5.0" text-anchor="middle" font-weight="normal" font-style="italic" fill="#39428a" stroke="#39428a" stroke-width="0.15">e</text>
<text transform="translate(17.90,396.10) rotate(-90)" font-size="8.6" font-weight="bold" fill="#111" stroke="#111" stroke-width="0.28" textLength="27.2" lengthAdjust="spacingAndGlyphs">Total cells</text>
<text transform="translate(17.90,366.20) rotate(-90)" font-size="8.6" font-weight="bold" fill="#111" stroke="#111" stroke-width="0.28" textLength="13.2" lengthAdjust="spacingAndGlyphs">(10<tspan font-size="5.6" dy="-3.5">5</tspan><tspan dy="3.5">)</tspan></text>
<rect x="169.45" y="399.60" width="9.60" height="0.70" fill="#2d4b8b"/>
<line x1="174.25" y1="398.80" x2="174.25" y2="399.60" stroke="#000" stroke-width="1.2" stroke-linecap="butt"/>
<line x1="171.08" y1="398.80" x2="177.42" y2="398.80" stroke="#000" stroke-width="1.2" stroke-linecap="butt"/>
<rect x="184.10" y="381.20" width="9.60" height="19.10" fill="#e8971f"/>
<line x1="188.90" y1="376.20" x2="188.90" y2="381.20" stroke="#000" stroke-width="1.2" stroke-linecap="butt"/>
<line x1="185.73" y1="376.20" x2="192.07" y2="376.20" stroke="#000" stroke-width="1.2" stroke-linecap="butt"/>
<rect x="198.75" y="357.80" width="9.60" height="42.50" fill="#4a5164"/>
<line x1="203.55" y1="356.20" x2="203.55" y2="357.80" stroke="#000" stroke-width="1.2" stroke-linecap="butt"/>
<line x1="200.38" y1="356.20" x2="206.72" y2="356.20" stroke="#000" stroke-width="1.2" stroke-linecap="butt"/>
<rect x="213.40" y="388.20" width="9.60" height="12.10" fill="#5b9dd9"/>
<line x1="218.20" y1="385.80" x2="218.20" y2="388.20" stroke="#000" stroke-width="1.2" stroke-linecap="butt"/>
<line x1="215.03" y1="385.80" x2="221.37" y2="385.80" stroke="#000" stroke-width="1.2" stroke-linecap="butt"/>
<line x1="152.60" y1="348.80" x2="152.60" y2="401.10" stroke="#000" stroke-width="1.6" stroke-linecap="butt"/>
<line x1="151.80" y1="400.30" x2="225.80" y2="400.30" stroke="#000" stroke-width="1.6" stroke-linecap="butt"/>
<line x1="149.20" y1="351.60" x2="152.60" y2="351.60" stroke="#000" stroke-width="1.0" stroke-linecap="butt"/>
<text x="146.30" y="353.90" font-size="6.6" text-anchor="end" font-weight="normal" font-style="normal" fill="#161616" >10</text>
<line x1="149.20" y1="361.30" x2="152.60" y2="361.30" stroke="#000" stroke-width="1.0" stroke-linecap="butt"/>
<text x="146.30" y="363.60" font-size="6.6" text-anchor="end" font-weight="normal" font-style="normal" fill="#161616" >8</text>
<line x1="149.20" y1="371.10" x2="152.60" y2="371.10" stroke="#000" stroke-width="1.0" stroke-linecap="butt"/>
<text x="146.30" y="373.40" font-size="6.6" text-anchor="end" font-weight="normal" font-style="normal" fill="#161616" >6</text>
<line x1="149.20" y1="380.80" x2="152.60" y2="380.80" stroke="#000" stroke-width="1.0" stroke-linecap="butt"/>
<text x="146.30" y="383.10" font-size="6.6" text-anchor="end" font-weight="normal" font-style="normal" fill="#161616" >4</text>
<line x1="149.20" y1="390.60" x2="152.60" y2="390.60" stroke="#000" stroke-width="1.0" stroke-linecap="butt"/>
<text x="146.30" y="392.90" font-size="6.6" text-anchor="end" font-weight="normal" font-style="normal" fill="#161616" >2</text>
<line x1="149.20" y1="400.30" x2="152.60" y2="400.30" stroke="#000" stroke-width="1.0" stroke-linecap="butt"/>
<text x="146.30" y="402.60" font-size="6.6" text-anchor="end" font-weight="normal" font-style="normal" fill="#161616" >0</text>
<line x1="159.60" y1="400.30" x2="159.60" y2="403.70" stroke="#000" stroke-width="1.0" stroke-linecap="butt"/>
<text transform="translate(162.80,409.60) rotate(-45)" font-size="6.7" text-anchor="end" font-style="normal" fill="#111" stroke="#111" stroke-width="0.15">Input</text>
<line x1="174.25" y1="400.30" x2="174.25" y2="403.70" stroke="#000" stroke-width="1.0" stroke-linecap="butt"/>
<text transform="translate(177.45,409.60) rotate(-45)" font-size="6.7" text-anchor="end" font-style="normal" fill="#111" stroke="#111" stroke-width="0.15">W/O M&#934;</text>
<line x1="188.90" y1="400.30" x2="188.90" y2="403.70" stroke="#000" stroke-width="1.0" stroke-linecap="butt"/>
<text transform="translate(192.10,409.60) rotate(-45)" font-size="6.7" text-anchor="end" font-style="normal" fill="#111" stroke="#111" stroke-width="0.15">M&#934;</text>
<line x1="203.55" y1="400.30" x2="203.55" y2="403.70" stroke="#000" stroke-width="1.0" stroke-linecap="butt"/>
<text transform="translate(206.75,409.60) rotate(-45)" font-size="6.7" text-anchor="end" font-style="normal" fill="#111" stroke="#111" stroke-width="0.15">M1-M&#934;</text>
<line x1="218.20" y1="400.30" x2="218.20" y2="403.70" stroke="#000" stroke-width="1.0" stroke-linecap="butt"/>
<text transform="translate(221.40,409.60) rotate(-45)" font-size="6.7" text-anchor="end" font-style="normal" fill="#111" stroke="#111" stroke-width="0.15">M2-M&#934;</text>
<text x="188.90" y="373.40" font-size="5.0" text-anchor="middle" font-weight="normal" font-style="italic" fill="#39428a" stroke="#39428a" stroke-width="0.15">c</text>
<text x="203.55" y="353.00" font-size="5.0" text-anchor="middle" font-weight="normal" font-style="italic" fill="#39428a" stroke="#39428a" stroke-width="0.15">d</text>
<text x="218.20" y="383.00" font-size="5.0" text-anchor="middle" font-weight="normal" font-style="italic" fill="#39428a" stroke="#39428a" stroke-width="0.15">f</text>
<text transform="translate(132.70,395.50) rotate(-90)" font-size="8.6" font-weight="bold" fill="#111" stroke="#111" stroke-width="0.28" textLength="25.9" lengthAdjust="spacingAndGlyphs">LSK cells</text>
<text transform="translate(132.70,367.60) rotate(-90)" font-size="8.6" font-weight="bold" fill="#111" stroke="#111" stroke-width="0.28" textLength="13.3" lengthAdjust="spacingAndGlyphs">(10<tspan font-size="5.6" dy="-3.5">4</tspan><tspan dy="3.5">)</tspan></text>
<rect x="266.20" y="394.50" width="9.60" height="5.80" fill="#be1231"/>
<line x1="271.00" y1="392.80" x2="271.00" y2="394.50" stroke="#000" stroke-width="1.2" stroke-linecap="butt"/>
<line x1="267.83" y1="392.80" x2="274.17" y2="392.80" stroke="#000" stroke-width="1.2" stroke-linecap="butt"/>
<rect x="280.80" y="398.80" width="9.60" height="1.50" fill="#2d4b8b"/>
<line x1="285.60" y1="397.80" x2="285.60" y2="398.80" stroke="#000" stroke-width="1.2" stroke-linecap="butt"/>
<line x1="282.43" y1="397.80" x2="288.77" y2="397.80" stroke="#000" stroke-width="1.2" stroke-linecap="butt"/>
<rect x="295.40" y="384.00" width="9.60" height="16.30" fill="#e8971f"/>
<line x1="300.20" y1="382.00" x2="300.20" y2="384.00" stroke="#000" stroke-width="1.2" stroke-linecap="butt"/>
<line x1="297.03" y1="382.00" x2="303.37" y2="382.00" stroke="#000" stroke-width="1.2" stroke-linecap="butt"/>
<rect x="310.00" y="399.40" width="9.60" height="0.90" fill="#4a5164"/>
<line x1="314.80" y1="398.20" x2="314.80" y2="399.40" stroke="#000" stroke-width="1.2" stroke-linecap="butt"/>
<line x1="311.63" y1="398.20" x2="317.97" y2="398.20" stroke="#000" stroke-width="1.2" stroke-linecap="butt"/>
<rect x="324.60" y="368.20" width="9.60" height="32.10" fill="#5b9dd9"/>
<line x1="329.40" y1="364.50" x2="329.40" y2="368.20" stroke="#000" stroke-width="1.2" stroke-linecap="butt"/>
<line x1="326.23" y1="364.50" x2="332.57" y2="364.50" stroke="#000" stroke-width="1.2" stroke-linecap="butt"/>
<line x1="263.80" y1="348.80" x2="263.80" y2="401.10" stroke="#000" stroke-width="1.6" stroke-linecap="butt"/>
<line x1="263.00" y1="400.30" x2="337.00" y2="400.30" stroke="#000" stroke-width="1.6" stroke-linecap="butt"/>
<line x1="260.40" y1="351.60" x2="263.80" y2="351.60" stroke="#000" stroke-width="1.0" stroke-linecap="butt"/>
<text x="257.50" y="353.90" font-size="6.6" text-anchor="end" font-weight="normal" font-style="normal" fill="#161616" >80</text>
<line x1="260.40" y1="363.80" x2="263.80" y2="363.80" stroke="#000" stroke-width="1.0" stroke-linecap="butt"/>
<text x="257.50" y="366.10" font-size="6.6" text-anchor="end" font-weight="normal" font-style="normal" fill="#161616" >60</text>
<line x1="260.40" y1="376.00" x2="263.80" y2="376.00" stroke="#000" stroke-width="1.0" stroke-linecap="butt"/>
<text x="257.50" y="378.30" font-size="6.6" text-anchor="end" font-weight="normal" font-style="normal" fill="#161616" >40</text>
<line x1="260.40" y1="388.10" x2="263.80" y2="388.10" stroke="#000" stroke-width="1.0" stroke-linecap="butt"/>
<text x="257.50" y="390.40" font-size="6.6" text-anchor="end" font-weight="normal" font-style="normal" fill="#161616" >20</text>
<line x1="260.40" y1="400.30" x2="263.80" y2="400.30" stroke="#000" stroke-width="1.0" stroke-linecap="butt"/>
<text x="257.50" y="402.60" font-size="6.6" text-anchor="end" font-weight="normal" font-style="normal" fill="#161616" >0</text>
<line x1="271.00" y1="400.30" x2="271.00" y2="403.70" stroke="#000" stroke-width="1.0" stroke-linecap="butt"/>
<text transform="translate(274.20,409.60) rotate(-45)" font-size="6.7" text-anchor="end" font-style="normal" fill="#111" stroke="#111" stroke-width="0.15">Input</text>
<line x1="285.60" y1="400.30" x2="285.60" y2="403.70" stroke="#000" stroke-width="1.0" stroke-linecap="butt"/>
<text transform="translate(288.80,409.60) rotate(-45)" font-size="6.7" text-anchor="end" font-style="normal" fill="#111" stroke="#111" stroke-width="0.15">W/O M&#934;</text>
<line x1="300.20" y1="400.30" x2="300.20" y2="403.70" stroke="#000" stroke-width="1.0" stroke-linecap="butt"/>
<text transform="translate(303.40,409.60) rotate(-45)" font-size="6.7" text-anchor="end" font-style="normal" fill="#111" stroke="#111" stroke-width="0.15">M&#934;</text>
<line x1="314.80" y1="400.30" x2="314.80" y2="403.70" stroke="#000" stroke-width="1.0" stroke-linecap="butt"/>
<text transform="translate(318.00,409.60) rotate(-45)" font-size="6.7" text-anchor="end" font-style="normal" fill="#111" stroke="#111" stroke-width="0.15">M1-M&#934;</text>
<line x1="329.40" y1="400.30" x2="329.40" y2="403.70" stroke="#000" stroke-width="1.0" stroke-linecap="butt"/>
<text transform="translate(332.60,409.60) rotate(-45)" font-size="6.7" text-anchor="end" font-style="normal" fill="#111" stroke="#111" stroke-width="0.15">M2-M&#934;</text>
<text x="300.20" y="379.20" font-size="5.0" text-anchor="middle" font-weight="normal" font-style="italic" fill="#39428a" stroke="#39428a" stroke-width="0.15">c</text>
<text x="314.80" y="396.00" font-size="5.0" text-anchor="middle" font-weight="normal" font-style="italic" fill="#39428a" stroke="#39428a" stroke-width="0.15">b</text>
<text x="329.40" y="361.60" font-size="5.0" text-anchor="middle" font-weight="normal" font-style="italic" fill="#39428a" stroke="#39428a" stroke-width="0.15">e</text>
<text transform="translate(243.20,374.10) rotate(-90)" font-size="8.8" text-anchor="middle" font-weight="bold" fill="#111" stroke="#111" stroke-width="0.28" textLength="18.3" lengthAdjust="spacingAndGlyphs">CAFCs</text>
<path d="M304.4,296.9 L305.6,293.6 L307.6,293.6 L308.6,296.9 Z" fill="#4a5164"/>
<rect x="309.60" y="291.80" width="4.60" height="5.10" fill="#5b9dd9"/>
<rect x="326.20" y="292.60" width="4.80" height="4.30" fill="#5b9dd9"/>
<line x1="328.60" y1="289.80" x2="328.60" y2="292.60" stroke="#000" stroke-width="1.1" stroke-linecap="butt"/>
<line x1="327.20" y1="289.80" x2="330.00" y2="289.80" stroke="#000" stroke-width="1.1" stroke-linecap="butt"/>
<rect x="342.70" y="248.20" width="5.20" height="8.90" fill="#5b9dd9"/>
<rect x="342.70" y="261.40" width="5.20" height="15.60" fill="#5b9dd9"/>
<rect x="342.70" y="281.50" width="5.20" height="15.40" fill="#5b9dd9"/>
<line x1="345.30" y1="245.60" x2="345.30" y2="248.20" stroke="#000" stroke-width="1.1" stroke-linecap="butt"/>
<line x1="343.90" y1="245.60" x2="346.70" y2="245.60" stroke="#000" stroke-width="1.1" stroke-linecap="butt"/>
<rect x="353.00" y="267.30" width="4.60" height="9.70" fill="#4a5164"/>
<rect x="353.00" y="281.50" width="4.60" height="15.40" fill="#4a5164"/>
<line x1="355.30" y1="264.80" x2="355.30" y2="267.30" stroke="#000" stroke-width="1.1" stroke-linecap="butt"/>
<line x1="353.90" y1="264.80" x2="356.70" y2="264.80" stroke="#000" stroke-width="1.1" stroke-linecap="butt"/>
<rect x="358.40" y="295.60" width="4.40" height="1.30" fill="#5b9dd9"/>
<rect x="370.00" y="287.60" width="4.40" height="9.30" fill="#4a5164"/>
<line x1="372.20" y1="282.80" x2="372.20" y2="287.60" stroke="#000" stroke-width="1.1" stroke-linecap="butt"/>
<line x1="370.80" y1="282.80" x2="373.60" y2="282.80" stroke="#000" stroke-width="1.1" stroke-linecap="butt"/>
<text x="312.00" y="291.60" font-size="5.6" text-anchor="middle" font-weight="bold" font-style="normal" fill="#2b3584" >*</text>
<text x="328.60" y="290.40" font-size="5.6" text-anchor="middle" font-weight="bold" font-style="normal" fill="#2b3584" >*</text>
<text x="345.30" y="245.80" font-size="5.6" text-anchor="middle" font-weight="bold" font-style="normal" fill="#2b3584" >**</text>
<text x="362.40" y="295.20" font-size="5.6" text-anchor="middle" font-weight="bold" font-style="normal" fill="#2b3584" >***</text>
<text x="378.20" y="297.60" font-size="5.6" text-anchor="middle" font-weight="bold" font-style="normal" fill="#2b3584" >*</text>
<line x1="300.60" y1="239.20" x2="300.60" y2="257.10" stroke="#000" stroke-width="1.6" stroke-linecap="butt"/>
<line x1="297.40" y1="257.10" x2="303.60" y2="257.10" stroke="#000" stroke-width="1.1" stroke-linecap="butt"/>
<line x1="300.60" y1="261.40" x2="300.60" y2="277.00" stroke="#000" stroke-width="1.6" stroke-linecap="butt"/>
<line x1="297.40" y1="261.40" x2="303.60" y2="261.40" stroke="#000" stroke-width="1.1" stroke-linecap="butt"/>
<line x1="297.40" y1="277.00" x2="303.60" y2="277.00" stroke="#000" stroke-width="1.1" stroke-linecap="butt"/>
<line x1="300.60" y1="281.50" x2="300.60" y2="296.90" stroke="#000" stroke-width="1.6" stroke-linecap="butt"/>
<line x1="297.40" y1="281.50" x2="303.60" y2="281.50" stroke="#000" stroke-width="1.1" stroke-linecap="butt"/>
<line x1="299.80" y1="296.90" x2="383.80" y2="296.90" stroke="#000" stroke-width="1.6" stroke-linecap="butt"/>
<line x1="297.40" y1="241.80" x2="300.60" y2="241.80" stroke="#000" stroke-width="1.0" stroke-linecap="butt"/>
<text x="294.60" y="244.10" font-size="6.6" text-anchor="end" font-weight="normal" font-style="normal" fill="#161616" >3000</text>
<line x1="297.40" y1="248.00" x2="300.60" y2="248.00" stroke="#000" stroke-width="1.0" stroke-linecap="butt"/>
<text x="294.60" y="250.30" font-size="6.6" text-anchor="end" font-weight="normal" font-style="normal" fill="#161616" >2000</text>
<line x1="297.40" y1="254.20" x2="300.60" y2="254.20" stroke="#000" stroke-width="1.0" stroke-linecap="butt"/>
<text x="294.60" y="256.50" font-size="6.6" text-anchor="end" font-weight="normal" font-style="normal" fill="#161616" >1000</text>
<line x1="297.40" y1="261.60" x2="300.60" y2="261.60" stroke="#000" stroke-width="1.0" stroke-linecap="butt"/>
<text x="294.60" y="263.90" font-size="6.6" text-anchor="end" font-weight="normal" font-style="normal" fill="#161616" >100</text>
<line x1="297.40" y1="267.20" x2="300.60" y2="267.20" stroke="#000" stroke-width="1.0" stroke-linecap="butt"/>
<text x="294.60" y="269.50" font-size="6.6" text-anchor="end" font-weight="normal" font-style="normal" fill="#161616" >75</text>
<line x1="297.40" y1="272.60" x2="300.60" y2="272.60" stroke="#000" stroke-width="1.0" stroke-linecap="butt"/>
<text x="294.60" y="274.90" font-size="6.6" text-anchor="end" font-weight="normal" font-style="normal" fill="#161616" >50</text>
<line x1="297.40" y1="281.20" x2="300.60" y2="281.20" stroke="#000" stroke-width="1.0" stroke-linecap="butt"/>
<text x="294.60" y="283.50" font-size="6.6" text-anchor="end" font-weight="normal" font-style="normal" fill="#161616" >15</text>
<line x1="297.40" y1="286.20" x2="300.60" y2="286.20" stroke="#000" stroke-width="1.0" stroke-linecap="butt"/>
<text x="294.60" y="288.50" font-size="6.6" text-anchor="end" font-weight="normal" font-style="normal" fill="#161616" >10</text>
<line x1="297.40" y1="291.40" x2="300.60" y2="291.40" stroke="#000" stroke-width="1.0" stroke-linecap="butt"/>
<text x="294.60" y="293.70" font-size="6.6" text-anchor="end" font-weight="normal" font-style="normal" fill="#161616" >5</text>
<line x1="297.40" y1="296.70" x2="300.60" y2="296.70" stroke="#000" stroke-width="1.0" stroke-linecap="butt"/>
<text x="294.60" y="299.00" font-size="6.6" text-anchor="end" font-weight="normal" font-style="normal" fill="#161616" >0</text>
<line x1="298.20" y1="283.80" x2="300.60" y2="283.80" stroke="#000" stroke-width="0.9" stroke-linecap="butt"/>
<line x1="298.20" y1="288.90" x2="300.60" y2="288.90" stroke="#000" stroke-width="0.9" stroke-linecap="butt"/>
<line x1="298.20" y1="294.10" x2="300.60" y2="294.10" stroke="#000" stroke-width="0.9" stroke-linecap="butt"/>
<line x1="309.40" y1="296.90" x2="309.40" y2="300.30" stroke="#000" stroke-width="1.0" stroke-linecap="butt"/>
<text transform="translate(312.40,306.40) rotate(-45)" font-size="6.7" text-anchor="end" font-style="italic" fill="#111" stroke="#111" stroke-width="0.15">Arg1</text>
<line x1="326.20" y1="296.90" x2="326.20" y2="300.30" stroke="#000" stroke-width="1.0" stroke-linecap="butt"/>
<text transform="translate(329.20,306.40) rotate(-45)" font-size="6.7" text-anchor="end" font-style="italic" fill="#111" stroke="#111" stroke-width="0.15">Fizz1</text>
<line x1="342.60" y1="296.90" x2="342.60" y2="300.30" stroke="#000" stroke-width="1.0" stroke-linecap="butt"/>
<text transform="translate(345.60,306.40) rotate(-45)" font-size="6.7" text-anchor="end" font-style="italic" fill="#111" stroke="#111" stroke-width="0.15">Ym1</text>
<line x1="358.40" y1="296.90" x2="358.40" y2="300.30" stroke="#000" stroke-width="1.0" stroke-linecap="butt"/>
<text transform="translate(361.40,306.40) rotate(-45)" font-size="6.7" text-anchor="end" font-style="italic" fill="#111" stroke="#111" stroke-width="0.15">Nos2</text>
<line x1="374.80" y1="296.90" x2="374.80" y2="300.30" stroke="#000" stroke-width="1.0" stroke-linecap="butt"/>
<text transform="translate(377.80,306.40) rotate(-45)" font-size="6.7" text-anchor="end" font-style="italic" fill="#111" stroke="#111" stroke-width="0.15">Il12a</text>
<rect x="304.20" y="242.60" width="5.80" height="5.10" fill="#4a5164"/>
<rect x="304.20" y="248.90" width="5.80" height="5.30" fill="#5b9dd9"/>
<text x="313.40" y="247.40" font-size="5.7" text-anchor="start" font-weight="normal" font-style="normal" fill="#161616" >M1 M&#934;</text>
<text x="313.40" y="254.00" font-size="5.7" text-anchor="start" font-weight="normal" font-style="normal" fill="#161616" >M2 M&#934;</text>
<text transform="translate(271.80,268.20) rotate(-90)" font-size="8.5" text-anchor="middle" font-weight="bold" fill="#111" stroke="#111" stroke-width="0.28" textLength="35.7" lengthAdjust="spacingAndGlyphs">Fold changes</text>
<rect x="0" y="0" width="520" height="1.5" fill="#000"/>
<rect x="0" y="0" width="1.4" height="437" fill="#000"/>
<rect x="518.6" y="0" width="1.4" height="437" fill="#000"/>
<rect x="0" y="435.2" width="520" height="1.8" fill="#000"/>
</svg>
</body></html>
